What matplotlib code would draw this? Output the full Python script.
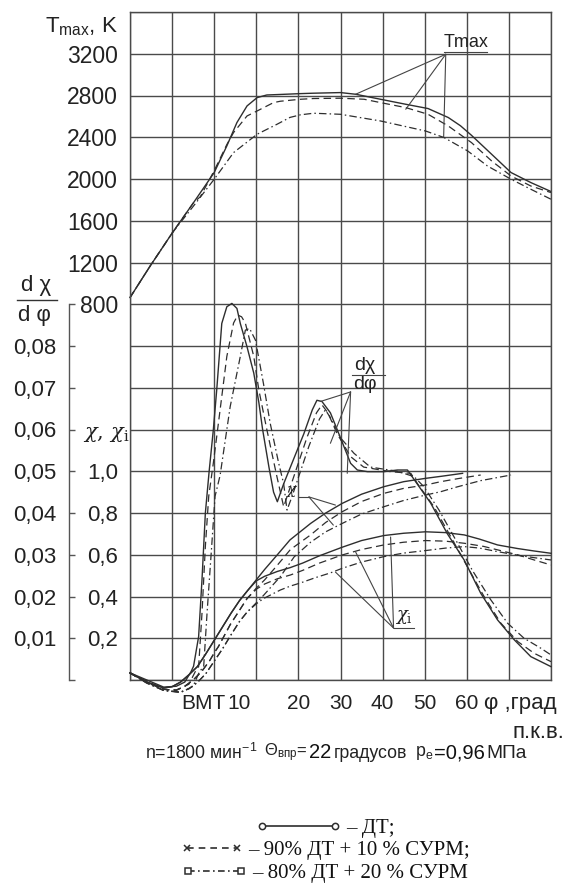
import matplotlib
matplotlib.use('Agg')
import matplotlib.pyplot as plt
from matplotlib.lines import Line2D
from matplotlib.transforms import ScaledTranslation

plt.rcParams['font.family'] = ['Liberation Sans', 'DejaVu Sans']
plt.rcParams['mathtext.fontset'] = 'custom'
plt.rcParams['mathtext.rm'] = 'Liberation Sans'
plt.rcParams['mathtext.it'] = 'Liberation Sans:italic'

# ---------------- data (crank angle, deg) ----------------
# T max, K
t_dt_x = [-20, -15.2, -9.9, -4.9, 0, 3.0, 5.4, 7.8, 10.2, 12.5, 15.7, 20.5, 23.6, 30, 33.6, 39.5, 45.5, 50.8, 55.6, 58.5, 61.1, 65.9, 70.5, 75.2, 80]
t_dt_y = [864, 1167, 1487, 1774, 2062, 2317, 2541, 2700, 2780, 2805, 2810, 2818, 2822, 2828, 2812, 2764, 2716, 2675, 2589, 2510, 2419, 2237, 2062, 1966, 1880]
t_90_x = [-20, -15.2, -9.9, -4.9, -3.3, 0, 3.0, 4.6, 7.8, 10.2, 14.1, 15.7, 20.5, 23.6, 30, 35.6, 39.5, 45.5, 50.8, 55.6, 61.1, 65.9, 70.5, 75.2, 80]
t_90_y = [864, 1167, 1487, 1774, 1830, 2080, 2330, 2445, 2604, 2652, 2732, 2745, 2764, 2771, 2774, 2764, 2732, 2684, 2620, 2508, 2349, 2173, 2029, 1933, 1870]
t_80_x = [-20, -15.2, -9.9, -4.9, 0, 4.6, 10.2, 14.9, 18, 20.5, 23.6, 30, 39.5, 50.2, 54.6, 60.2, 64.9, 70.5, 75.2, 80]
t_80_y = [864, 1167, 1487, 1742, 1998, 2253, 2429, 2524, 2590, 2615, 2630, 2620, 2556, 2460, 2397, 2269, 2125, 1998, 1902, 1806]

# heat release rate d chi / d phi
d_dt_x = [-20, -16, -12, -9, -7, -5.5, -4.9, -3.7, -2.9, -2.1, -1.2, -0.2, 0.6, 1.8, 3.0, 4.2, 5.4, 6.2, 7.8, 9.4, 10.6, 11.5, 13.0, 14.1, 15.0, 16.5, 18.1, 21.3, 23.3, 24.4, 25.6, 27.6, 30, 32.4, 34, 36.4, 40.3, 43.5, 45.9, 47.5, 51.4, 55.4, 59.4, 63.3, 67.3, 71.3, 75.2, 80]
d_dt_y = [0.0017, 0.0, -0.0017, -0.0015, -0.0005, 0.002, 0.0033, 0.0104, 0.024, 0.040, 0.050, 0.060, 0.0695, 0.0854, 0.0894, 0.0902, 0.089, 0.0854, 0.0798, 0.0735, 0.0665, 0.060, 0.051, 0.045, 0.0427, 0.047, 0.051, 0.059, 0.0647, 0.067, 0.0667, 0.064, 0.058, 0.0519, 0.0503, 0.0499, 0.0499, 0.0503, 0.0503, 0.048, 0.0424, 0.035, 0.0287, 0.0208, 0.0144, 0.0096, 0.0056, 0.0032]
d_90_x = [-20, -16, -12, -9, -6, -4.5, -3.7, -2.9, -2.1, -1.3, -0.2, 1.0, 3.0, 4.6, 5.6, 6.5, 7.4, 9.4, 10.6, 12.5, 14.9, 16.5, 18, 20, 22, 24.3, 25.6, 27, 29.2, 32.4, 35.5, 41.9, 46.7, 48.3, 52.2, 56.2, 60.2, 64.1, 68.1, 72.1, 76, 80]
d_90_y = [0.0017, -0.0003, -0.0022, -0.0025, -0.001, 0.002, 0.0032, 0.016, 0.032, 0.044, 0.052, 0.0615, 0.0775, 0.0855, 0.0874, 0.087, 0.0855, 0.0775, 0.0695, 0.060, 0.0487, 0.0415, 0.046, 0.052, 0.058, 0.064, 0.0659, 0.064, 0.059, 0.0535, 0.051, 0.0499, 0.0495, 0.047, 0.0415, 0.0343, 0.027, 0.020, 0.0136, 0.0092, 0.0064, 0.0044]
d_80_x = [-20, -16, -12, -8, -5, -3.5, -2.5, -1.7, -0.6, 0.2, 1.4, 3.8, 6.2, 7.4, 8.4, 9.8, 11.7, 13.3, 15.3, 16.5, 17.3, 18.5, 20.5, 22.5, 25, 26.4, 27.5, 30, 33.2, 37.1, 43.5, 47.5, 49.8, 53.4, 57.4, 61.3, 65.7, 69.7, 73.6, 77.6, 80]
d_80_y = [0.0017, -0.0005, -0.0025, -0.003, -0.0015, 0.002, 0.0032, 0.016, 0.032, 0.044, 0.049, 0.0655, 0.0775, 0.0838, 0.0842, 0.0814, 0.071, 0.0615, 0.052, 0.047, 0.0407, 0.044, 0.050, 0.056, 0.0625, 0.0647, 0.063, 0.058, 0.0543, 0.051, 0.050, 0.0487, 0.0463, 0.0407, 0.0335, 0.0263, 0.0192, 0.0136, 0.010, 0.0076, 0.006]

# burned fraction chi
c_dt_x = [-20, -16, -12, -10, -8, -6, -4, -2, 0, 2, 4, 6, 8, 10, 12, 15, 18, 22.9, 26.5, 30.4, 35, 40.3, 45, 50.2, 54, 59]
c_dt_y = [0.034, -0.01, -0.038, -0.032, -0.01, 0.025, 0.064, 0.125, 0.19, 0.255, 0.32, 0.38, 0.43, 0.48, 0.53, 0.60, 0.671, 0.75, 0.80, 0.846, 0.89, 0.926, 0.95, 0.966, 0.976, 0.99]
c_90_x = [-20, -16, -12, -9, -7, -5, -3, -1, 0, 1, 3.8, 7.8, 10, 12, 15, 18.1, 22.9, 26.5, 30.4, 35, 40.3, 45, 50.2, 53.8, 58, 63.3]
c_90_y = [0.034, -0.012, -0.045, -0.048, -0.03, 0.0, 0.04, 0.095, 0.13, 0.16, 0.265, 0.39, 0.44, 0.48, 0.55, 0.625, 0.695, 0.755, 0.806, 0.855, 0.894, 0.918, 0.934, 0.95, 0.965, 0.982]
c_80_x = [-20, -16, -12, -8, -6, -4, -2, 0, 2, 3.8, 6, 7.8, 10, 11.7, 15.7, 19, 22.9, 26.5, 30.4, 35, 40.3, 45, 50.2, 53.8, 57.7, 63.3, 70.5]
c_80_y = [0.034, -0.015, -0.05, -0.058, -0.042, -0.012, 0.03, 0.09, 0.15, 0.21, 0.28, 0.325, 0.37, 0.405, 0.495, 0.59, 0.66, 0.71, 0.75, 0.795, 0.83, 0.86, 0.886, 0.902, 0.925, 0.955, 0.982]

# indicated fraction chi_i
ci_dt_x = [-20, -16, -12, -10, -8, -6, -4, -2, 0, 2, 4, 6, 8, 10, 12, 15, 18, 21, 25, 30.4, 35, 40.3, 45, 50.2, 55, 59.4, 63, 67.3, 72, 76, 80]
ci_dt_y = [0.034, -0.01, -0.038, -0.032, -0.01, 0.025, 0.064, 0.125, 0.19, 0.255, 0.32, 0.38, 0.43, 0.475, 0.497, 0.52, 0.538, 0.56, 0.595, 0.636, 0.668, 0.692, 0.703, 0.71, 0.706, 0.695, 0.675, 0.647, 0.63, 0.618, 0.607]
ci_90_x = [-20, -16, -12, -9, -7, -5, -3, -1, 0, 1, 3.8, 7.8, 10, 12, 15, 18.1, 21, 25, 30.4, 35, 40.3, 45, 50.2, 55, 59.4, 64, 68, 72, 76, 80]
ci_90_y = [0.034, -0.012, -0.045, -0.048, -0.03, 0.0, 0.04, 0.095, 0.13, 0.16, 0.265, 0.39, 0.435, 0.46, 0.485, 0.503, 0.525, 0.56, 0.599, 0.625, 0.647, 0.66, 0.668, 0.665, 0.655, 0.64, 0.62, 0.60, 0.575, 0.551]
ci_80_x = [-20, -16, -12, -8, -6, -4, -2, 0, 2, 3.8, 6, 7.8, 10, 11.7, 15.7, 18.1, 20.5, 24, 27.6, 30.4, 35, 40.3, 45, 50.2, 55, 59.4, 63, 67.3, 72, 76, 80]
ci_80_y = [0.034, -0.015, -0.05, -0.058, -0.042, -0.012, 0.03, 0.09, 0.15, 0.21, 0.28, 0.325, 0.365, 0.39, 0.431, 0.45, 0.465, 0.49, 0.513, 0.535, 0.565, 0.591, 0.608, 0.62, 0.632, 0.639, 0.632, 0.615, 0.598, 0.586, 0.575]

x_ticks = list(range(-20, 81, 10))
x_labels = ['', '', 'ВМТ', '10', '20', '30', '40', '50', '60', '', '']
t_ticks = list(range(-2800, 3601, 400))
t_labels = [str(v) if 800 <= v <= 3200 else '' for v in t_ticks]
d_ticks = [0, 0.01, 0.02, 0.03, 0.04, 0.05, 0.06, 0.07, 0.08, 0.09]
d_labels = ['', '0,01', '0,02', '0,03', '0,04', '0,05', '0,06', '0,07', '0,08', '']
c_ticks = [0.2, 0.4, 0.6, 0.8, 1.0]
c_labels = ['0,2', '0,4', '0,6', '0,8', '1,0']

legend_labels = ['– ДТ;', '– 90% ДТ + 10 % СУРМ;', '– 80% ДТ + 20 % СУРМ']

# ---------------- figure ----------------
W, H = 571, 884
DPI = 100
fig = plt.figure(figsize=(W / DPI, H / DPI), dpi=DPI, facecolor='white')
L, R, B, T = 130 / W, 551 / W, 1 - 680 / H, 1 - 12 / H
rect = [L, B, R - L, T - B]
PX = 72.0 / DPI  # points per pixel

GRID = '#4a4a4a'
INK = '#2e2e2e'

ax = fig.add_axes(rect)
ax.set_xlim(-20, 80)
ax.set_ylim(-2800, 3600)
ax.set_xticks(x_ticks)
ax.set_xticklabels(x_labels)
ax.set_yticks(t_ticks)
ax.set_yticklabels(t_labels)
ax.grid(True, color=GRID, lw=1.0)
for s in ax.spines.values():
    s.set_color(GRID)
    s.set_linewidth(1.0)
ax.tick_params(axis='y', length=0, pad=12 * PX, labelsize=16.5, colors='#222222')
ax.tick_params(axis='x', length=0, pad=14 * PX, labelsize=15, colors='#222222')

offs = {'ВМТ': -11, '10': -17}
for lab in ax.get_xticklabels():
    if lab.get_text() in offs:
        lab.set_transform(lab.get_transform() + ScaledTranslation(offs[lab.get_text()] / DPI, 0, fig.dpi_scale_trans))

axd = fig.add_axes(rect, facecolor='none')
axd.set_xlim(-20, 80)
axd.set_ylim(0, 0.16)
axd.xaxis.set_visible(False)
for k in ['top', 'right', 'bottom']:
    axd.spines[k].set_visible(False)
axd.spines['left'].set_position(('outward', 61 * PX))
axd.spines['left'].set_bounds(0, 0.09)
axd.spines['left'].set_color('#555555')
axd.spines['left'].set_linewidth(1.0)
axd.set_yticks(d_ticks)
axd.set_yticklabels(d_labels)
axd.tick_params(axis='y', direction='in', length=4, width=1.0, color='#555555', pad=13 * PX, labelsize=16, labelcolor='#222222')

axc = fig.add_axes(rect, facecolor='none')
axc.set_xlim(-20, 80)
axc.set_ylim(0, 3.2)
axc.xaxis.set_visible(False)
for s in axc.spines.values():
    s.set_visible(False)
axc.set_yticks(c_ticks)
axc.set_yticklabels(c_labels)
axc.tick_params(axis='y', length=0, pad=12 * PX, labelsize=16, labelcolor='#222222')

styles = [
    dict(color=INK, lw=1.0, ls='-'),
    dict(color=INK, lw=0.9, ls=(0, (6, 3.5))),
    dict(color=INK, lw=0.9, ls=(0, (6, 2.5, 1.2, 2.5))),
]

for (x, y), st in zip([(t_dt_x, t_dt_y), (t_90_x, t_90_y), (t_80_x, t_80_y)], styles):
    ax.plot(x, y, clip_on=False, **st)
for (x, y), st in zip([(d_dt_x, d_dt_y), (d_90_x, d_90_y), (d_80_x, d_80_y)], styles):
    axd.plot(x, y, clip_on=False, **st)
for (x, y), st in zip([(c_dt_x, c_dt_y), (c_90_x, c_90_y), (c_80_x, c_80_y)], styles):
    axc.plot(x, y, clip_on=False, **st)
for (x, y), st in zip([(ci_dt_x, ci_dt_y), (ci_90_x, ci_90_y), (ci_80_x, ci_80_y)], styles):
    axc.plot(x, y, clip_on=False, **st)

LEAD = dict(arrowstyle='-', lw=0.8, color='#444444', shrinkA=0, shrinkB=0)

# Tmax annotation
ax.text(54.5, 3225, 'Tmax', ha='left', va='bottom', fontsize=13, color='#222222')
ax.plot([54.5, 64.8], [3214, 3214], color='#444444', lw=0.8)
for tx, ty in [(33.6, 2812), (45.5, 2668), (54.5, 2400)]:
    ax.annotate('', xy=(tx, ty), xytext=(55.0, 3195), arrowprops=LEAD)

# d chi / d phi annotation
axd.text(35.7, 0.0753, 'dχ', ha='center', va='center', fontsize=14, color='#222222')
axd.text(35.7, 0.0708, 'dφ', ha='center', va='center', fontsize=14, color='#222222')
axd.plot([32.8, 40.5], [0.0731, 0.0731], color='#444444', lw=0.8)
for tx, ty in [(25.2, 0.0667), (27.6, 0.0567), (31.6, 0.0495)]:
    axd.annotate('', xy=(tx, ty), xytext=(32.4, 0.0690), arrowprops=LEAD)

# chi annotation
axc.text(17.0, 0.905, r'$\chi$', ha='left', va='center', fontsize=11, color='#222222', math_fontfamily='dejavuserif')
axc.plot([20.2, 22.5], [0.877, 0.877], color='#444444', lw=0.8)
for tx, ty in [(28.8, 0.838), (28.3, 0.742)]:
    axc.annotate('', xy=(tx, ty), xytext=(22.5, 0.877), arrowprops=LEAD)

# chi_i annotation
axc.text(43.0, 0.258, r'$\chi_{\rm i}$', ha='left', va='bottom', fontsize=13, color='#222222', math_fontfamily='dejavuserif')
axc.plot([42.6, 47.4], [0.249, 0.249], color='#444444', lw=0.8)
for tx, ty in [(28.8, 0.517), (33.6, 0.613), (41.9, 0.685)]:
    axc.annotate('', xy=(tx, ty), xytext=(42.6, 0.249), arrowprops=LEAD)

# ---------------- outside texts ----------------
def fx(px):
    return px / W

def fy(py):
    return 1 - py / H

fig.text(fx(118), fy(27), r'T$_{\rm max}$, K', ha='right', va='center', fontsize=16, color='#222222')
fig.text(fx(36), fy(285), 'd χ', ha='center', va='center', fontsize=16, color='#222222')
fig.add_artist(Line2D([fx(17), fx(57)], [fy(300), fy(300)], color='#333333', lw=1.0))
fig.text(fx(34), fy(316), 'd φ', ha='center', va='center', fontsize=16, color='#222222')
fig.text(fx(106), fy(434), r'$\chi,\,\chi_{\rm i}$', ha='center', va='center', fontsize=15, color='#222222', math_fontfamily='dejavuserif')

fig.text(fx(484), fy(703), 'φ ,град', ha='left', va='center', fontsize=16, color='#222222')
fig.text(fx(564), fy(732), 'п.к.в.', ha='right', va='center', fontsize=16, color='#222222')

# caption laid out piece by piece
renderer = fig.canvas.get_renderer()
cap_y = fy(753)
pieces = [
    (r'n=1800 мин$^{-1}$', 12.8, '#222222', 7),
    (r'Θ$_{\rm впр}$=', 12, '#222222', 1),
    ('22', 14.5, '#111111', 3),
    ('градусов', 12.8, '#222222', 8),
    (r'p$_{\rm e}$', 12.8, '#222222', 0),
    ('=0,96', 14.5, '#111111', 2),
    ('МПа', 13.8, '#222222', 0),
]
xpos = 145.0
for s, size, col, gap in pieces:
    t = fig.text(fx(xpos), cap_y, s, ha='left', va='center', fontsize=size, color=col)
    bb = t.get_window_extent(renderer)
    xpos += bb.width + gap

# legend rows
handles = [
    Line2D([], [], color=INK, lw=1.2, ls='-', marker='o', ms=4.5, mfc='white', mec=INK, mew=1.1),
    Line2D([], [], color=INK, lw=1.2, ls=(0, (4, 3)), marker='x', ms=5, mec=INK, mew=1.1),
    Line2D([], [], color=INK, lw=1.2, ls=(0, (4, 2, 1, 2)), marker='s', ms=5, mfc='white', mec=INK, mew=1.1),
]
hlens = [4.1, 3.0, 3.1]
for h, lab, yy, hl in zip(handles, legend_labels, [828, 850, 873], hlens):
    fig.legend([h], [lab], loc='center', bbox_to_anchor=(fx(325), fy(yy)), frameon=False,
               numpoints=2, handlelength=hl, handletextpad=0.25, borderpad=0, borderaxespad=0,
               prop=dict(family=['Liberation Serif', 'DejaVu Serif'], size=15), labelcolor='#111111')

fig.savefig('out.png', dpi=DPI, facecolor='white')
